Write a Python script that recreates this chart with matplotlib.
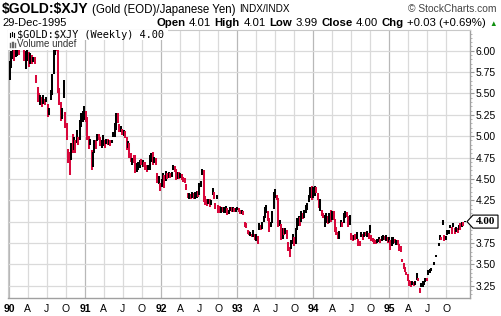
import numpy as np
import pandas as pd
import matplotlib
matplotlib.use("Agg")
import matplotlib.pyplot as plt
import matplotlib.dates as mdates
from matplotlib.patches import Polygon, Rectangle
from matplotlib.lines import Line2D

plt.rcParams["font.family"] = ["Liberation Sans", "DejaVu Sans"]

# weekly bars (high, low, close), one list per year, None = no bar
w1990 = [(5.88, 5.66, 5.82), (6.00, 5.80, 5.96), (6.04, 5.90, 6.00), (6.03, 5.88, 5.92),
         (6.02, 5.93, 5.98), (6.06, 5.94, 6.03), (6.03, 5.95, 5.97), (6.12, 6.02, 6.08),
         (6.18, 6.05, 6.14), (6.14, 6.04, 6.06), (6.08, 5.88, 5.90), (6.00, 5.79, 5.97),
         (6.03, 5.88, 6.00), (5.99, 5.81, 5.86), (5.97, 5.85, 5.94), (5.95, 5.85, 5.88),
         (5.93, 5.87, 5.92), (5.93, 5.85, 5.86), (5.72, 5.62, 5.64), (5.58, 5.40, 5.45),
         (5.50, 5.40, 5.42), (5.48, 5.37, 5.46), (5.46, 5.34, 5.38), (5.48, 5.38, 5.45),
         (5.44, 5.36, 5.40), (5.46, 5.40, 5.44), (5.38, 5.22, 5.25), (5.33, 5.25, 5.30),
         (5.54, 5.42, 5.50), (5.73, 5.48, 5.70), (6.01, 5.73, 5.98), (6.15, 5.95, 6.10),
         (6.20, 6.00, 6.05), (6.02, 5.50, 5.55), (5.56, 5.36, 5.40), (5.40, 5.18, 5.22),
         (5.33, 5.20, 5.30), (5.66, 5.45, 5.60), (5.28, 5.10, 5.14), (5.15, 4.95, 4.98),
         (4.85, 4.68, 4.72), (4.82, 4.55, 4.60), (4.92, 4.72, 4.88), (5.03, 4.80, 4.84),
         (4.99, 4.84, 4.96), (4.95, 4.80, 4.82), (5.07, 4.92, 5.05), (4.99, 4.90, 4.92),
         (5.19, 4.95, 5.15), (5.27, 5.11, 5.20), (5.30, 5.17, 5.25), (5.35, 5.19, 5.32)]
w1991 = [(5.30, 5.17, 5.20), (5.22, 4.95, 4.98), (5.00, 4.85, 4.88), (4.97, 4.90, 4.95),
         (4.84, 4.60, 4.65), (4.82, 4.64, 4.78), (4.96, 4.80, 4.92), (4.95, 4.85, 4.88),
         (5.03, 4.94, 5.00), (5.02, 4.95, 4.98), (4.99, 4.88, 4.90), (4.95, 4.86, 4.92),
         (5.01, 4.88, 4.98), (4.96, 4.86, 4.88), (4.97, 4.91, 4.95), (4.97, 4.90, 4.90),
         (4.96, 4.90, 4.93), (4.95, 4.88, 4.89), (4.96, 4.92, 4.94), (5.05, 4.99, 5.04),
         (5.15, 4.99, 5.12), (5.27, 5.07, 5.24), (5.27, 5.15, 5.18), (5.14, 5.05, 5.08),
         (5.12, 5.05, 5.10), (5.08, 5.01, 5.02), (5.07, 5.00, 5.05), (5.06, 4.98, 5.00),
         (4.99, 4.84, 4.86), (4.94, 4.86, 4.92), (4.92, 4.74, 4.76), (4.80, 4.70, 4.72),
         (4.75, 4.66, 4.73), (4.78, 4.68, 4.70), (4.78, 4.57, 4.60), (4.68, 4.58, 4.62),
         (4.70, 4.60, 4.68), (4.72, 4.63, 4.70), (4.73, 4.66, 4.68), (4.72, 4.64, 4.70),
         (4.70, 4.64, 4.65), (4.70, 4.60, 4.62), (4.66, 4.58, 4.60), (4.66, 4.60, 4.64),
         (4.78, 4.60, 4.75), (4.80, 4.70, 4.78), (4.82, 4.66, 4.68), (4.76, 4.68, 4.74),
         (4.74, 4.66, 4.67), (4.57, 4.45, 4.48), (4.53, 4.44, 4.50), (4.45, 4.36, 4.38)]
w1992 = [(4.50, 4.40, 4.47), (4.57, 4.46, 4.55), (4.55, 4.39, 4.43), (4.59, 4.48, 4.56),
         (4.57, 4.50, 4.52), (4.58, 4.51, 4.56), (4.57, 4.51, 4.53), (4.58, 4.52, 4.56),
         (4.66, 4.60, 4.64), (4.65, 4.58, 4.60), (4.62, 4.49, 4.51), (4.58, 4.50, 4.55),
         (4.58, 4.50, 4.52), (4.57, 4.51, 4.55), (4.56, 4.49, 4.50), (4.52, 4.46, 4.48),
         (4.51, 4.45, 4.47), (4.44, 4.37, 4.38), (4.34, 4.28, 4.29), (4.33, 4.27, 4.30),
         (4.32, 4.27, 4.28), (4.35, 4.28, 4.33), (4.33, 4.27, 4.29), (4.35, 4.27, 4.34),
         (4.36, 4.28, 4.35), (4.36, 4.29, 4.31), (4.45, 4.31, 4.43), (4.48, 4.40, 4.46),
         (4.61, 4.55, 4.58), (4.60, 4.23, 4.26), (4.30, 4.19, 4.22), (4.26, 4.18, 4.20),
         (4.27, 4.21, 4.25), (4.26, 4.17, 4.19), (4.25, 4.19, 4.23), (4.39, 4.31, 4.36),
         (4.35, 4.27, 4.29), (4.22, 4.15, 4.16), (4.31, 4.26, 4.30), (4.20, 4.10, 4.12),
         (4.18, 4.10, 4.11), (4.17, 4.10, 4.15), (4.17, 4.11, 4.12), (4.17, 4.10, 4.16),
         (4.18, 4.10, 4.17), (4.16, 4.08, 4.10), (4.14, 4.09, 4.12), (4.17, 4.12, 4.16),
         (4.17, 4.11, 4.13), (4.17, 4.11, 4.15), (4.16, 4.11, 4.12), (4.16, 4.11, 4.14)]
w1993 = [(4.17, 4.13, 4.16), (4.16, 4.11, 4.12), (4.14, 4.09, 4.10), (4.13, 4.09, 4.12),
         (4.12, 4.08, 4.09), (4.00, 3.94, 3.96), (3.98, 3.92, 3.94), (3.90, 3.85, 3.87),
         (3.89, 3.84, 3.85), (3.88, 3.83, 3.87), (3.86, 3.82, 3.83), (3.90, 3.82, 3.88),
         (3.86, 3.79, 3.80), (3.86, 3.77, 3.84), (3.83, 3.74, 3.76), (3.98, 3.90, 3.96),
         (3.96, 3.90, 3.92), (3.99, 3.91, 3.97), (4.06, 3.99, 4.05), (4.17, 4.04, 4.15),
         (4.20, 4.10, 4.18), (4.12, 4.01, 4.02), (4.04, 3.88, 3.90), (4.00, 3.94, 3.98),
         (4.12, 3.98, 4.10), (4.35, 4.15, 4.32), (4.38, 4.28, 4.36), (4.31, 4.25, 4.26),
         (4.28, 3.94, 3.97), (4.02, 3.95, 4.00), (3.97, 3.78, 3.80), (3.92, 3.80, 3.90),
         (3.93, 3.84, 3.86), (3.92, 3.85, 3.90), (3.90, 3.80, 3.82), (3.76, 3.66, 3.68),
         (3.70, 3.59, 3.62), (3.78, 3.68, 3.76), (3.86, 3.74, 3.84), (3.82, 3.71, 3.73),
         (3.92, 3.74, 3.90), (4.04, 3.90, 4.00), (4.06, 3.95, 4.04), (4.05, 3.95, 3.97),
         (4.12, 4.00, 4.10), (4.10, 4.03, 4.04), (4.14, 4.04, 4.12), (4.20, 4.10, 4.18),
         (4.22, 4.14, 4.20), (4.31, 4.23, 4.29), (4.40, 4.28, 4.38), (4.42, 4.25, 4.28),
         (4.41, 4.28, 4.32)]
w1994 = [(4.42, 4.30, 4.40), (4.41, 4.33, 4.35), (4.34, 4.25, 4.27), (4.26, 4.16, 4.18),
         (4.26, 4.12, 4.22), (4.14, 4.06, 4.08), (4.10, 4.04, 4.05), (4.08, 3.94, 4.06),
         (4.10, 3.98, 4.08), (4.06, 3.97, 3.99), (4.10, 3.98, 4.08), (4.13, 4.00, 4.02),
         (4.12, 4.02, 4.10), (4.12, 4.02, 4.04), (4.03, 3.88, 3.90), (3.94, 3.84, 3.86),
         (3.88, 3.80, 3.82), (3.89, 3.80, 3.87), (4.02, 3.94, 4.00), (4.00, 3.94, 3.96),
         (4.10, 3.98, 4.08), (4.12, 4.04, 4.10), (4.11, 4.05, 4.06), (4.06, 3.94, 3.96),
         (4.08, 3.96, 4.05), (3.87, 3.79, 3.80), (3.84, 3.77, 3.78), (3.84, 3.79, 3.83),
         (3.85, 3.78, 3.79), (3.88, 3.80, 3.86), (3.80, 3.72, 3.74), (3.77, 3.71, 3.73),
         (3.88, 3.82, 3.86), (3.85, 3.79, 3.80), (3.88, 3.82, 3.87), (3.88, 3.83, 3.84),
         (3.89, 3.82, 3.87), (3.87, 3.80, 3.81), (3.96, 3.87, 3.94), (3.84, 3.77, 3.79),
         (3.81, 3.76, 3.77), (3.80, 3.74, 3.76), (3.79, 3.74, 3.75), (3.80, 3.75, 3.79),
         (3.82, 3.76, 3.80), (3.80, 3.75, 3.77), (3.83, 3.77, 3.82), (3.84, 3.79, 3.83),
         (3.83, 3.78, 3.80), (3.84, 3.77, 3.83), (3.82, 3.75, 3.77), (3.82, 3.76, 3.80)]
w1995 = [(3.79, 3.67, 3.70), (3.82, 3.72, 3.80), (3.82, 3.74, 3.81), (3.80, 3.75, 3.76),
         (3.79, 3.73, 3.77), (3.78, 3.73, 3.76), (3.74, 3.66, 3.68), (3.72, 3.65, 3.67),
         (3.56, 3.53, 3.54), (3.51, 3.45, 3.46), (3.47, 3.41, 3.42), (3.41, 3.37, 3.38),
         (3.39, 3.30, 3.31), (3.32, 3.25, 3.27), (3.30, 3.24, 3.25), (3.30, 3.26, 3.29),
         (3.29, 3.25, 3.26), (3.30, 3.26, 3.29), (3.40, 3.32, 3.38), (3.34, 3.30, 3.31),
         (3.22, 3.17, 3.18), (3.28, 3.23, 3.26), (3.30, 3.24, 3.28), (3.31, 3.26, 3.30),
         (3.34, 3.29, 3.33), (3.34, 3.30, 3.32), (3.43, 3.38, 3.42), (3.44, 3.40, 3.43),
         (3.46, 3.42, 3.45), None, (3.53, 3.49, 3.52), (3.61, 3.59, 3.60),
         None, (3.75, 3.71, 3.74), (3.84, 3.79, 3.83), (3.82, 3.79, 3.80),
         (4.02, 3.96, 4.00), (3.84, 3.77, 3.79), (3.83, 3.78, 3.82), (3.90, 3.84, 3.88),
         (3.90, 3.86, 3.89), (3.96, 3.92, 3.95), (3.94, 3.86, 3.88), (3.98, 3.94, 3.97),
         (3.93, 3.86, 3.88), (3.94, 3.88, 3.92), (3.93, 3.87, 3.89), (3.96, 3.90, 3.95),
         (3.98, 3.90, 3.92), (4.00, 3.94, 3.98), (4.00, 3.95, 3.97), (4.01, 3.99, 4.00)]

year_labels = ["90", "91", "92", "93", "94", "95"]
month_labels = ["A", "J", "O"]
price_ticks = [3.25, 3.50, 3.75, 4.00, 4.25, 4.50, 4.75, 5.00, 5.25, 5.50, 5.75, 6.00]
last_close = 4.00

bars = w1990 + w1991 + w1992 + w1993 + w1994 + w1995
weeks = pd.date_range("1990-01-05", "1995-12-29", freq="W-FRI")

xs, his, los, cols = [], [], [], []
prev = None
for d, b in zip(weeks, bars):
    if b is None:
        continue
    hi, lo, cl = b
    xs.append(mdates.date2num(d))
    his.append(hi)
    los.append(lo)
    cols.append("#000000" if prev is None or cl >= prev else "#d8083c")
    prev = cl

W, H = 502, 316
fig = plt.figure(figsize=(W / 100, H / 100), dpi=100)
ax = fig.add_axes([8 / W, 1 - 298 / H, 462 / W, 268 / H])

ax.vlines(xs, los, his, colors=cols, lw=1.45, zorder=3)

ax.set_xlim(mdates.date2num(pd.Timestamp("1989-12-27")), mdates.date2num(pd.Timestamp("1996-01-23")))
ax.set_ylim(3.106, 6.242)

years = [pd.Timestamp(f"19{y}-01-01") for y in year_labels]
quarters = [pd.Timestamp(f"19{y}-{m:02d}-01") for y in year_labels for m in (4, 7, 10)]
ax.set_xticks(mdates.date2num(years))
ax.set_xticklabels(year_labels, fontweight="bold")
ax.set_xticks(mdates.date2num(quarters), minor=True)
ax.set_xticklabels(month_labels * len(year_labels), minor=True)
ax.tick_params(axis="x", which="both", length=0, pad=4, labelsize=7.5)

ax.yaxis.tick_right()
ax.set_yticks(price_ticks)
ax.set_yticklabels(["" if v == last_close else f"{v:.2f}" for v in price_ticks])
ax.set_yticks(np.arange(3.15, 6.24, 0.05), minor=True)
ax.tick_params(axis="y", which="major", length=3, pad=1, labelsize=7.5, color="#999999")
ax.tick_params(axis="y", which="minor", length=1.5, color="#aaaaaa")

ax.set_axisbelow(True)
ax.xaxis.grid(True, which="major", color="#b8b8b8", lw=0.9)
ax.xaxis.grid(True, which="minor", color="#dadada", lw=0.9)
ax.yaxis.grid(True, which="major", color="#dadada", lw=0.9)
for side in ["left", "top"]:
    ax.spines[side].set_color("#c8c8c8")
for side in ["right", "bottom"]:
    ax.spines[side].set_color("#a0a0a0")
    ax.spines[side].set_linewidth(1.0)

renderer = fig.canvas.get_renderer()


def fx(px):
    return px / W


def fy(py):
    return 1 - py / H


def put(x, y, s, **kw):
    t = fig.text(fx(x), fy(y), s, va="baseline", parse_math=False, **kw)
    return t, t.get_window_extent(renderer).width


# header line 1
t, w = put(2, 12.5, "$GOLD:$XJY", fontsize=10, fontweight="bold")
t, w2 = put(2 + w + 3, 12.5, "(Gold (EOD)/Japanese Yen)", fontsize=8.3)
put(2 + w + 3 + w2 + 4, 12.5, "INDX/INDX", fontsize=7.2)
fig.text(fx(497), fy(12.5), "\u00a9 StockCharts.com", fontsize=7.4, color="#444444",
         ha="right", va="baseline")

# header line 2
put(2, 26, "29-Dec-1995", fontsize=8)
pieces = [("Open", "bold"), ("4.01", "normal"), ("High", "bold"), ("4.01", "normal"),
          ("Low", "bold"), ("3.99", "normal"), ("Close", "bold"), ("4.00", "normal"),
          ("Chg", "bold"), ("+0.03 (+0.69%)", "normal"), ("\u25b2", "normal")]
texts, cur = [], 0.0
for s, wt in pieces:
    col = "#109010" if s == "\u25b2" else "black"
    size = 5.5 if s == "\u25b2" else 8.2
    t, w = put(cur, 26, s, fontsize=size, fontweight=wt, color=col)
    texts.append((t, cur))
    cur += w + 3.5
shift = 497 - (cur - 3.5)
for t, x0 in texts:
    t.set_x(fx(x0 + shift))

# legend box in the top left of the plot
fig.patches.append(Rectangle((fx(8.5), fy(39.5)), fx(168 - 8.5), 9 / H,
                             transform=fig.transFigure, facecolor="white", edgecolor="none", zorder=2))
fig.patches.append(Rectangle((fx(8.5), fy(49.5)), fx(84 - 8.5), 10 / H,
                             transform=fig.transFigure, facecolor="white", edgecolor="none", zorder=2))
put(17, 37.7, "$GOLD:$XJY (Weekly) 4.00", fontsize=7.4, family="DejaVu Sans Mono", zorder=4)
put(17, 46.8, "Volume undef", fontsize=7, color="#333333", zorder=4)
for i, (a, b) in enumerate([(33, 37), (32, 36), (33, 37)]):
    fig.lines.append(Line2D([fx(10 + 2 * i)] * 2, [fy(a), fy(b)], transform=fig.transFigure,
                            color="black", lw=0.8, zorder=4))
for i, top in enumerate([43, 42, 41.5, 43]):
    fig.lines.append(Line2D([fx(10 + 1.6 * i)] * 2, [fy(top), fy(46.5)], transform=fig.transFigure,
                            color="#666666", lw=1.0, zorder=4))

# last price marker on the right axis
y_px = H - ax.transData.transform((0, last_close))[1]
pts = [(467, y_px), (473, y_px - 6.5), (498, y_px - 6.5), (498, y_px + 6.5), (473, y_px + 6.5)]
fig.patches.append(Polygon([(fx(a), fy(b)) for a, b in pts], closed=True, transform=fig.transFigure,
                           facecolor="white", edgecolor="black", lw=0.8, zorder=5))
fig.text(fx(486), fy(y_px), f"{last_close:.2f}", fontsize=8, fontweight="bold",
         family="Liberation Serif", ha="center", va="center", zorder=6)

fig.savefig("out.png", dpi=100)
